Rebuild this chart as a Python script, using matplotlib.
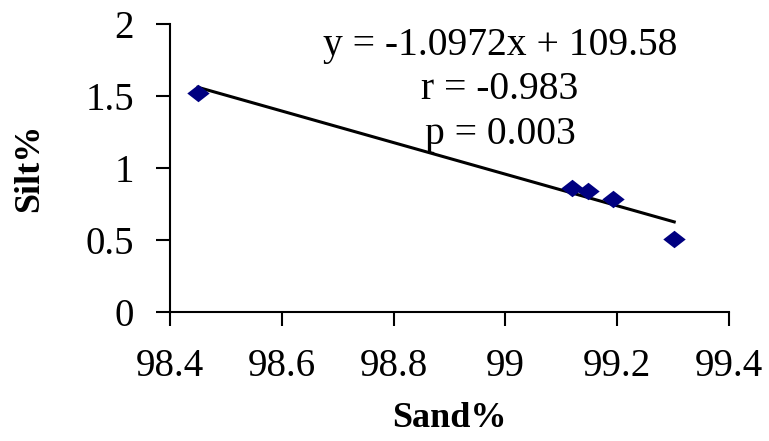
import numpy as np
import matplotlib.pyplot as plt

# sand vs silt (%)
sand = [98.45, 99.12, 99.147, 99.193, 99.302]
silt = [1.52, 0.86, 0.84, 0.785, 0.51]

slope     = -1.0972
intercept = 109.58
r_value   = -0.983
p_value   = 0.003

x_ticks = [98.4, 98.6, 98.8, 99, 99.2, 99.4]
y_ticks = [0, 0.5, 1, 1.5, 2]

plt.rcParams['font.family'] = ['Liberation Serif', 'DejaVu Serif']

fig = plt.figure(figsize=(7.69, 4.41), dpi=100)
ax = fig.add_axes([0.221, 0.2925, 0.727, 0.653])

# flattened diamond, like the excel marker
diamond = [(-1, 0), (0, 0.78), (1, 0), (0, -0.78), (-1, 0)]
ax.scatter(sand, silt, marker=diamond, s=260, color='#000080', zorder=3, linewidths=0)

fit_x = np.array([min(sand), max(sand)])
ax.plot(fit_x, slope * fit_x + intercept, color='black', lw=2.2, zorder=2)

ax.set_xlim(98.4, 99.4)
ax.set_ylim(0, 2)
ax.set_xticks(x_ticks)
ax.set_xticklabels(['98.4', '98.6', '98.8', '99', '99.2', '99.4'])
ax.set_yticks(y_ticks)
ax.set_yticklabels(['0', '0.5', '1', '1.5', '2'])

for side in ('top', 'right'):
	ax.spines[side].set_visible(False)
for side in ('left', 'bottom'):
	ax.spines[side].set_linewidth(1.5)
	ax.spines[side].set_clip_on(False)

ax.tick_params(axis='x', direction='out', length=10, width=1.5, pad=16, labelsize=28)
ax.tick_params(axis='y', direction='out', length=10, width=1.5, pad=16, labelsize=28)

ax.set_xlabel('Sand%', fontsize=26, fontweight='bold', labelpad=12)
ax.set_ylabel('Silt%', fontsize=26, fontweight='bold', labelpad=28)

eq = f'y = {slope}x + {intercept}\nr = {r_value}\np = {p_value:.3f}'
ax.text(0.5 + (500 - 170 - 279.5) / 559, 0.99, eq, transform=ax.transAxes,
	ha='center', va='top', fontsize=28.5, linespacing=1.27)

plt.savefig('out.png', dpi=100)
